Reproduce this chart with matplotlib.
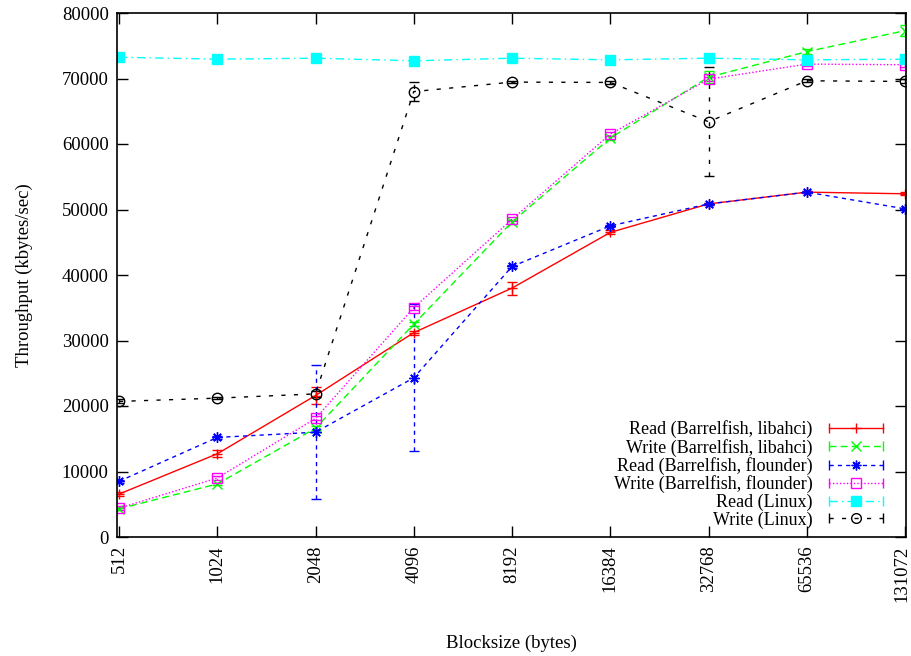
import numpy as np
import matplotlib
matplotlib.use("Agg")
import matplotlib.pyplot as plt
import matplotlib.transforms as mtransforms
from matplotlib.lines import Line2D
from matplotlib.legend_handler import HandlerBase

plt.rcParams["font.family"] = ["Liberation Serif", "DejaVu Serif"]

# ── Data (kbytes/sec) ─────────────────────────────────────────────────────────
blocksizes = [512, 1024, 2048, 4096, 8192, 16384, 32768, 65536, 131072]

read_bf_ahci      = [6550, 12700, 21600, 31200, 38000, 46500, 50850, 52650, 52400]
read_bf_ahci_err  = [300, 550, 1300, 300, 1000, 300, 200, 200, 200]

write_bf_ahci     = [4300, 8100, 16600, 32500, 48100, 60900, 70200, 74100, 77300]
write_bf_ahci_err = [200, 200, 300, 300, 300, 300, 900, 400, 800]

read_bf_fl        = [8500, 15200, 16000, 24300, 41300, 47500, 50850, 52650, 50100]
read_bf_fl_err    = [200, 200, 10250, 11200, 200, 200, 200, 200, 200]

write_bf_fl       = [4400, 9000, 18100, 35000, 48500, 61500, 69900, 72200, 72100]
write_bf_fl_err   = [300, 300, 300, 300, 300, 300, 300, 300, 300]

read_linux        = [73250, 72950, 73100, 72700, 73100, 72850, 73100, 72850, 72950]
read_linux_err    = [100, 100, 100, 100, 100, 100, 100, 100, 100]

write_linux       = [20700, 21200, 21850, 68000, 69450, 69400, 63400, 69650, 69550]
write_linux_err   = [300, 200, 400, 1500, 200, 200, 8300, 200, 300]

labels = ["Read (Barrelfish, libahci)", "Write (Barrelfish, libahci)",
          "Read (Barrelfish, flounder)", "Write (Barrelfish, flounder)",
          "Read (Linux)", "Write (Linux)"]

# ── Styles (gnuplot-ish) ──────────────────────────────────────────────────────
LW = 1.0
STAR = (8, 2, 0)
STYLES = {
    labels[0]: dict(color="#ff0000", ls="-",               marker="+",  mfc="#ff0000"),
    labels[1]: dict(color="#00ff00", ls=(0, (5, 3)),       marker="x",  mfc="#00ff00"),
    labels[2]: dict(color="#0000ff", ls=(0, (3, 3)),       marker=STAR, mfc="#0000ff"),
    labels[3]: dict(color="#ff00ff", ls=(0, (1, 1.5)),     marker="s",  mfc="none"),
    labels[4]: dict(color="#00ffff", ls=(0, (6, 3, 1, 3)), marker="s",  mfc="#00ffff"),
    labels[5]: dict(color="#000000", ls=(0, (3, 6)),       marker="o",  mfc="none"),
}
SERIES = [
    (read_bf_ahci, read_bf_ahci_err),
    (write_bf_ahci, write_bf_ahci_err),
    (read_bf_fl, read_bf_fl_err),
    (write_bf_fl, write_bf_fl_err),
    (read_linux, read_linux_err),
    (write_linux, write_linux_err),
]


class KeyWithCaps(HandlerBase):
    """Legend key: styled line, end caps, marker in the middle."""
    def create_artists(self, legend, orig, xdescent, ydescent, width, height,
                       fontsize, trans):
        st = STYLES[orig.get_label()]
        y = height / 2 - ydescent
        x0, x1 = -xdescent, width - xdescent
        seg = Line2D([x0, x1], [y, y], color=st["color"], lw=LW, linestyle=st["ls"])
        caps = Line2D([x0, x1], [y, y], color=st["color"], ls="none",
                      marker="|", ms=7, mew=LW)
        mk = Line2D([(x0 + x1) / 2], [y], color=st["color"], ls="none",
                    marker=st["marker"], ms=7, mfc=st["mfc"], mew=LW)
        for a in (seg, caps, mk):
            a.set_transform(trans)
        return [seg, caps, mk]


fig = plt.figure(figsize=(9.11, 6.56), dpi=100)
ax = fig.add_axes([117 / 911, 119 / 656, 789 / 911, 524 / 656])

handles = []
for lab, (vals, err) in zip(labels, SERIES):
    st = STYLES[lab]
    cont = ax.errorbar(blocksizes, vals, yerr=err, color=st["color"], lw=LW,
                       ls=st["ls"], marker=st["marker"], ms=7.5, mfc=st["mfc"],
                       mew=LW, capsize=3.5, capthick=LW, elinewidth=LW)
    for bc in cont.lines[2]:
        bc.set_linestyle(st["ls"])
    handles.append(Line2D([], [], label=lab))

ax.set_xscale("log", base=2)
ax.set_xlim(504.8, 132000)
ax.set_ylim(0, 80000)
ax.set_xticks(blocksizes)
ax.set_xticklabels([str(b) for b in blocksizes], rotation=90, fontsize=13.5)
ax.minorticks_off()
ax.set_yticks(np.arange(0, 80001, 10000))
ax.tick_params(axis="y", labelsize=13.5)
ax.tick_params(direction="in", length=8, width=1, top=True, right=True, pad=6)

# keep the last rotated label inside the canvas
last = ax.get_xticklabels()[-1]
last.set_transform(last.get_transform() +
                   mtransforms.ScaledTranslation(-3 / 100, 0, fig.dpi_scale_trans))

for sp in ax.spines.values():
    sp.set_linewidth(1.2)

ax.set_xlabel("Blocksize (bytes)", fontsize=13.5, labelpad=24)
ax.set_ylabel("Throughput (kbytes/sec)", fontsize=13.5, labelpad=20.5)

ax.legend(handles=handles, handler_map={Line2D: KeyWithCaps()},
          loc="lower right", bbox_to_anchor=(0.9709, 0.016), frameon=False,
          markerfirst=False, fontsize=13, labelspacing=0.02,
          handlelength=3.0, handletextpad=0.9, borderpad=0.0, borderaxespad=0.0)

fig.savefig("out.png", dpi=100)
